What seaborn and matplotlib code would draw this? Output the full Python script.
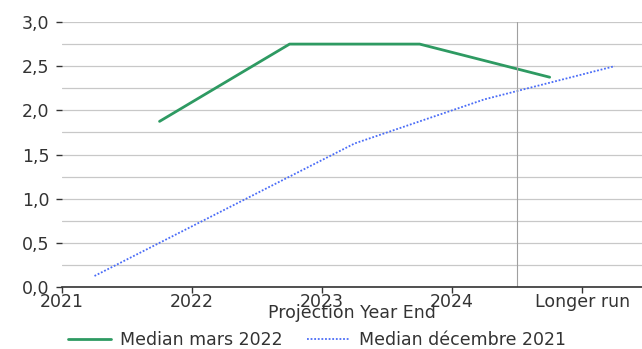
import matplotlib
matplotlib.use("Agg")
import matplotlib.pyplot as plt
import seaborn as sns
import pandas as pd
import numpy as np
from matplotlib.ticker import FuncFormatter, MultipleLocator
from matplotlib.lines import Line2D

sns.set_theme(style="white")
plt.rcParams['font.family'] = ['DejaVu Sans']

# Data
tick_positions = [2021, 2022, 2023, 2024, 2025]
tick_labels = ["2021", "2022", "2023", "2024", "Longer run"]

x_mars = [2021.75, 2022.75, 2023.75, 2024.75]
y_mars = [1.875, 2.75, 2.75, 2.375]

x_dec = [2021.25, 2022.25, 2023.25, 2024.25, 2025.25]
y_dec = [0.125, 0.875, 1.625, 2.125, 2.5]

df = pd.concat([
    pd.DataFrame({"x": x_mars, "y": y_mars, "series": "Median mars 2022"}),
    pd.DataFrame({"x": x_dec, "y": y_dec, "series": "Median décembre 2021"}),
])

fig = plt.figure(figsize=(6.42, 3.49), dpi=100)
ax = fig.add_axes([62/642, 1-287/349, 1-62/642, (287-22)/349])

green = "#2e9a62"
blue = "#4a6cf7"
txt = "#333333"
fs = 12.5

ax.yaxis.set_major_locator(MultipleLocator(0.5))
ax.yaxis.set_minor_locator(MultipleLocator(0.25))
ax.grid(axis="y", which="both", color="#c8c8c8", linewidth=0.9)
ax.set_axisbelow(True)

sns.lineplot(data=df, x="x", y="y", hue="series", style="series",
             palette={"Median mars 2022": green, "Median décembre 2021": blue},
             dashes={"Median mars 2022": "", "Median décembre 2021": (1, 1)},
             ax=ax, legend=False)
lines = ax.get_lines()
lines[0].set_linewidth(2.0)
lines[1].set_linewidth(1.3)

ax.axvline(2024.5, color="#a0a0a0", linewidth=0.8)

ax.set_xlim(2021, 2025.46)
ax.set_ylim(0, 3.0)
ax.set_xticks(tick_positions)
ax.set_xticklabels(tick_labels)
ax.yaxis.set_major_formatter(FuncFormatter(lambda v, p: f"{v:.1f}".replace(".", ",")))

for s in ["top", "right", "left"]:
    ax.spines[s].set_visible(False)
ax.spines["bottom"].set_color(txt)
ax.spines["bottom"].set_linewidth(1.2)

ax.tick_params(axis="x", which="major", bottom=True, length=4, width=1, color=txt,
               labelsize=fs, labelcolor=txt, pad=0)
ax.tick_params(axis="y", which="major", left=True, length=4, width=1, color=txt,
               labelsize=fs, labelcolor=txt, pad=5)
ax.tick_params(axis="y", which="minor", left=False)

ax.set_xlabel("Projection Year End", fontsize=fs, color=txt, labelpad=-5)
ax.set_ylabel("")

handles = [Line2D([], [], color=green, linewidth=2.0),
           Line2D([], [], color=blue, linewidth=1.3, linestyle=(0, (1, 1)))]
fig.legend(handles, ["Median mars 2022", "Median décembre 2021"], loc="lower left",
           bbox_to_anchor=(52/642, -0.045), ncol=2, frameon=False, fontsize=fs,
           handlelength=2.5, handletextpad=0.5, columnspacing=1.4, labelcolor=txt)

fig.savefig("out.png", dpi=100)
